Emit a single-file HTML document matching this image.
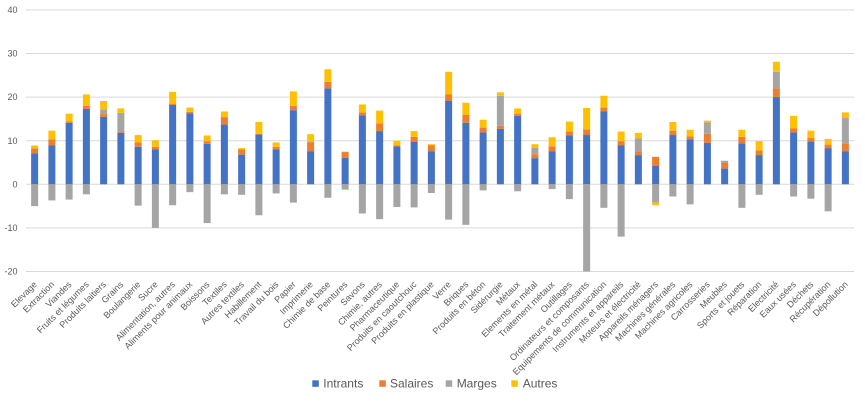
<!DOCTYPE html>
<html>
<head>
<meta charset="utf-8">
<style>
html,body{margin:0;padding:0;background:#fff;}
body{width:865px;height:401px;overflow:hidden;}
svg{display:block;font-family:"Liberation Sans","DejaVu Sans",sans-serif;}
.yl{font-size:9px;fill:#595959;text-anchor:end;}
.xl{font-size:9px;fill:#595959;text-anchor:end;}
.lg{font-size:12px;fill:#595959;}
</style>
</head>
<body>
<svg id="c" width="865" height="401" viewBox="0 0 865 401" xmlns="http://www.w3.org/2000/svg">
<g stroke="#d9d9d9" stroke-width="1">
<line x1="26" y1="9.9" x2="854" y2="9.9"/>
<line x1="26" y1="53.5" x2="854" y2="53.5"/>
<line x1="26" y1="97.1" x2="854" y2="97.1"/>
<line x1="26" y1="140.7" x2="854" y2="140.7"/>
<line x1="26" y1="184.3" x2="854" y2="184.3"/>
<line x1="26" y1="227.9" x2="854" y2="227.9"/>
<line x1="26" y1="271.5" x2="854" y2="271.5"/>
</g>
<text class="yl" x="17.5" y="13">40</text>
<text class="yl" x="17.5" y="56.6">30</text>
<text class="yl" x="17.5" y="100.2">20</text>
<text class="yl" x="17.5" y="143.8">10</text>
<text class="yl" x="17.5" y="187.4">0</text>
<text class="yl" x="17.5" y="231">-10</text>
<text class="yl" x="17.5" y="274.6">-20</text>
<g id="bars"></g>
<g>
<text class="xl" transform="translate(37.6,285) rotate(-45)">Elevage</text>
<text class="xl" transform="translate(54.9,285) rotate(-45)">Extraction</text>
<text class="xl" transform="translate(72.1,285) rotate(-45)">Viandes</text>
<text class="xl" transform="translate(89.4,285) rotate(-45)">Fruits et légumes</text>
<text class="xl" transform="translate(106.6,285) rotate(-45)">Produits laitiers</text>
<text class="xl" transform="translate(123.9,285) rotate(-45)">Grains</text>
<text class="xl" transform="translate(141.1,285) rotate(-45)">Boulangerie</text>
<text class="xl" transform="translate(158.4,285) rotate(-45)">Sucre</text>
<text class="xl" transform="translate(175.6,285) rotate(-45)">Alimentation, autres</text>
<text class="xl" transform="translate(192.9,285) rotate(-45)">Aliments pour animaux</text>
<text class="xl" transform="translate(210.1,285) rotate(-45)">Boissons</text>
<text class="xl" transform="translate(227.4,285) rotate(-45)">Textiles</text>
<text class="xl" transform="translate(244.6,285) rotate(-45)">Autres textiles</text>
<text class="xl" transform="translate(261.9,285) rotate(-45)">Habillement</text>
<text class="xl" transform="translate(279.1,285) rotate(-45)">Travail du bois</text>
<text class="xl" transform="translate(296.4,285) rotate(-45)">Papier</text>
<text class="xl" transform="translate(313.6,285) rotate(-45)">Imprimerie</text>
<text class="xl" transform="translate(330.9,285) rotate(-45)">Chimie de base</text>
<text class="xl" transform="translate(348.1,285) rotate(-45)">Peintures</text>
<text class="xl" transform="translate(365.4,285) rotate(-45)">Savons</text>
<text class="xl" transform="translate(382.6,285) rotate(-45)">Chimie, autres</text>
<text class="xl" transform="translate(399.9,285) rotate(-45)">Pharmaceutique</text>
<text class="xl" transform="translate(417.1,285) rotate(-45)">Produits en caoutchouc</text>
<text class="xl" transform="translate(434.4,285) rotate(-45)">Produits en plastique</text>
<text class="xl" transform="translate(451.6,285) rotate(-45)">Verre</text>
<text class="xl" transform="translate(468.9,285) rotate(-45)">Briques</text>
<text class="xl" transform="translate(486.1,285) rotate(-45)">Produits en béton</text>
<text class="xl" transform="translate(503.4,285) rotate(-45)">Sidérurgie</text>
<text class="xl" transform="translate(520.6,285) rotate(-45)">Métaux</text>
<text class="xl" transform="translate(537.9,285) rotate(-45)">Elements en métal</text>
<text class="xl" transform="translate(555.1,285) rotate(-45)">Traitement métaux</text>
<text class="xl" transform="translate(572.4,285) rotate(-45)">Outillages</text>
<text class="xl" transform="translate(589.6,285) rotate(-45)">Ordinateurs et composants</text>
<text class="xl" transform="translate(606.9,285) rotate(-45)">Equipements de communication</text>
<text class="xl" transform="translate(624.1,285) rotate(-45)">Instruments et appareils</text>
<text class="xl" transform="translate(641.4,285) rotate(-45)">Moteurs et électricité</text>
<text class="xl" transform="translate(658.6,285) rotate(-45)">Appareils ménagers</text>
<text class="xl" transform="translate(675.9,285) rotate(-45)">Machines générales</text>
<text class="xl" transform="translate(693.1,285) rotate(-45)">Machines agricoles</text>
<text class="xl" transform="translate(710.4,285) rotate(-45)">Carrosseries</text>
<text class="xl" transform="translate(727.6,285) rotate(-45)">Meubles</text>
<text class="xl" transform="translate(744.9,285) rotate(-45)">Sports et jouets</text>
<text class="xl" transform="translate(762.1,285) rotate(-45)">Réparation</text>
<text class="xl" transform="translate(779.4,285) rotate(-45)">Electricité</text>
<text class="xl" transform="translate(796.6,285) rotate(-45)">Eaux usées</text>
<text class="xl" transform="translate(813.9,285) rotate(-45)">Déchets</text>
<text class="xl" transform="translate(831.1,285) rotate(-45)">Récupération</text>
<text class="xl" transform="translate(848.4,285) rotate(-45)">Dépollution</text>
</g>
<g>
<rect x="312.3" y="380.3" width="6.5" height="6.5" fill="#4472C4"/>
<text class="lg" x="323.3" y="387.7">Intrants</text>
<rect x="379.3" y="380.3" width="6.5" height="6.5" fill="#ED7D31"/>
<text class="lg" x="390" y="387.7">Salaires</text>
<rect x="445.7" y="380.3" width="6.5" height="6.5" fill="#A5A5A5"/>
<text class="lg" x="456.7" y="387.7">Marges</text>
<rect x="511.3" y="380.3" width="6.5" height="6.5" fill="#FFC000"/>
<text class="lg" x="522.7" y="387.7">Autres</text>
</g>
</svg>
<script>
(function(){
var d=[
[7.1,1.1,0,0.7,-5.0,0],
[8.9,1.4,0,2.0,-3.7,0],
[14.1,0.3,0,1.8,-3.5,0],
[17.3,0.7,0,2.6,-2.3,0],
[15.5,0.6,1.1,1.9,0,0],
[11.8,0.4,4.2,1.0,0,0],
[8.6,1.0,0,1.7,-4.9,0],
[8.0,0.6,0,1.5,-10.0,0],
[18.2,0.3,0,2.7,-4.8,0],
[16.3,0.3,0,1.0,-1.8,0],
[9.3,0.6,0,1.3,-8.9,0],
[13.7,1.7,0,1.3,-2.3,0],
[6.8,1.2,0,0.3,-2.4,0],
[11.4,0.2,0,2.7,-7.1,0],
[8.0,0.6,0,1.0,-2.1,0],
[17.0,1.0,0,3.3,-4.2,0],
[7.6,2.0,0.2,1.7,0,0],
[22.0,1.5,0,2.9,-3.1,0],
[6.1,1.3,0,0.1,-1.1,-0.2],
[15.8,0.7,0,1.8,-6.7,0],
[12.2,1.8,0,2.9,-8.0,0],
[8.7,0.2,0,1.1,-5.2,0],
[9.7,1.2,0,1.3,-5.3,0],
[7.6,1.3,0,0.3,-2.0,0],
[19.1,1.5,0,5.2,-8.1,0],
[14.1,1.8,0,2.8,-9.3,0],
[11.9,1.1,0,1.8,-1.4,0],
[12.7,0.7,6.9,0.8,0,0],
[15.7,0.5,0,1.2,-1.6,0],
[6.0,0.9,1.5,0.8,0,0],
[7.6,1.1,0,2.1,-1.1,0],
[11.2,0.9,0,2.3,-3.4,0],
[11.3,1.3,0,4.9,-20.0,0],
[16.7,0.9,0,2.7,-5.4,0],
[8.9,1.0,0,2.2,-12.0,0],
[6.7,0.9,2.9,1.3,0,0],
[4.2,2.1,0,0,-4.2,-0.6],
[11.3,1.0,0,2.0,-2.8,0],
[10.3,0.7,0,1.5,-4.6,0],
[9.5,2.1,2.6,0.4,0,0],
[3.6,1.3,0.5,0,0,0],
[9.4,1.5,0,1.6,-5.4,0],
[6.7,1.1,0,2.1,-2.4,0],
[20.0,2.0,3.8,2.3,0,0],
[11.9,0.9,0,2.9,-2.8,0],
[9.8,0.8,0,1.7,-3.3,0],
[8.3,0.8,0,1.3,-6.2,0],
[7.6,1.8,5.8,1.3,0,0]
];
var col=["#4472C4","#ED7D31","#A5A5A5","#FFC000"];
var y0=184.3,s=4.36,w=7;
var g=document.getElementById("bars");
var ns="http://www.w3.org/2000/svg";
function r(x,ya,yb,c){
  var top=Math.min(ya,yb),h=Math.abs(yb-ya);
  if(h<0.05)return;
  if(top+h>271.5){h=271.5-top;}
  var e=document.createElementNS(ns,"rect");
  e.setAttribute("x",x.toFixed(2));e.setAttribute("y",top.toFixed(2));
  e.setAttribute("width",w);e.setAttribute("height",h.toFixed(2));
  e.setAttribute("fill",c);g.appendChild(e);
}
for(var i=0;i<d.length;i++){
  var cx=26+(i+0.5)*17.25,x=cx-w/2,v=d[i];
  var acc=0;
  for(var k=0;k<4;k++){
    if(v[k]>0){r(x,y0-acc*s,y0-(acc+v[k])*s,col[k]);acc+=v[k];}
  }
  var n=0;
  if(v[4]<0){r(x,y0,y0-v[4]*s,col[2]);n=v[4];}
  if(v[5]<0){r(x,y0-n*s,y0-(n+v[5])*s,col[3]);}
}
})();
</script>
</body>
</html>
